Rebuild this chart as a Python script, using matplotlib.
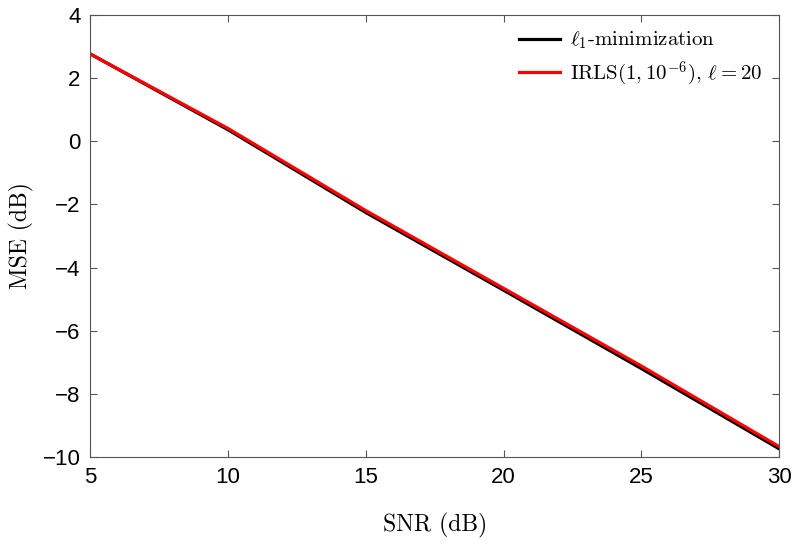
import matplotlib
matplotlib.use("Agg")
import matplotlib.pyplot as plt

plt.rcParams["mathtext.fontset"] = "cm"
plt.rcParams["font.family"] = ["Liberation Sans", "DejaVu Sans"]

snr_db = [5, 10, 15, 20, 25, 30]
mse_l1 = [2.76, 0.36, -2.26, -4.72, -7.20, -9.74]
mse_irls = [2.76, 0.40, -2.20, -4.66, -7.12, -9.67]

label_l1 = r"$\ell_1$-minimization"
label_irls = r"IRLS$(1, 10^{-6})$, $\ell = 20$"

fig = plt.figure(figsize=(8, 5.5), dpi=100)
ax = fig.add_axes([0.113, 0.169, 0.861, 0.804])

ax.plot(snr_db, mse_l1, color="black", linewidth=2.3, label=label_l1)
ax.plot(snr_db, mse_irls, color="#ff0000", linewidth=2.3, label=label_irls)

ax.set_xlim(5, 30)
ax.set_ylim(-10, 4)
ax.set_xticks([5, 10, 15, 20, 25, 30])
ax.set_yticks(range(-10, 5, 2))
ax.tick_params(direction="in", top=True, right=True, length=5,
               labelsize=16, colors="#555555", labelcolor="black", pad=7)
for s in ax.spines.values():
    s.set_color("#555555")

ax.set_xlabel("SNR (dB)", fontfamily="cmr10", fontsize=17, labelpad=18)
ax.set_ylabel("MSE (dB)", fontfamily="cmr10", fontsize=17, labelpad=6)

leg = ax.legend(loc="upper right", bbox_to_anchor=(0.987, 0.985), frameon=False,
                handlelength=2.0, handletextpad=0.45,
                prop={"family": "cmr10", "size": 15},
                borderaxespad=0.0, labelspacing=0.4)

fig.savefig("out.png", dpi=100)
